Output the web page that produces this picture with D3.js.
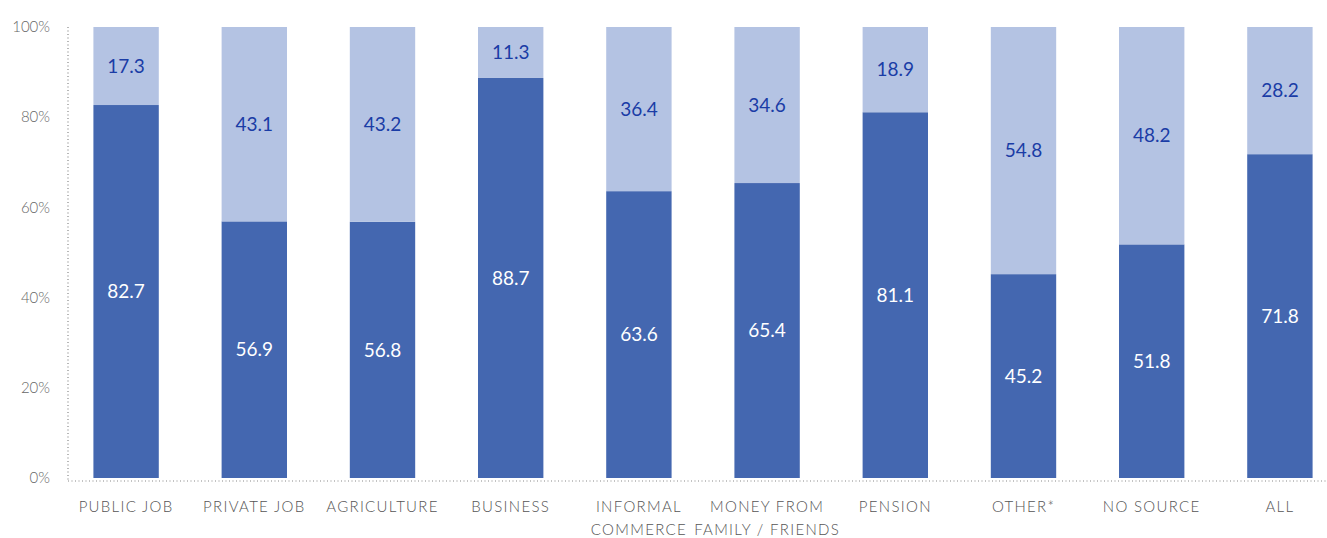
<!DOCTYPE html>
<html>
<head>
<meta charset="utf-8">
<script src="https://cdn.jsdelivr.net/npm/d3@7"></script>
<style>
  body { margin: 0; background: #fff; }
  svg { display: block; }
</style>
</head>
<body>
<svg id="chart"></svg>
<script>
    'use strict';

    var categories = [
        ['PUBLIC JOB'], ['PRIVATE JOB'], ['AGRICULTURE'], ['BUSINESS'],
        ['INFORMAL', 'COMMERCE'], ['MONEY FROM', 'FAMILY / FRIENDS'], ['PENSION'],
        ['OTHER*'], ['NO SOURCE'], ['ALL']
    ];
    var lowerValues = [82.7, 56.9, 56.8, 88.7, 63.6, 65.4, 81.1, 45.2, 51.8, 71.8];
    var upperValues = [17.3, 43.1, 43.2, 11.3, 36.4, 34.6, 18.9, 54.8, 48.2, 28.2];
    var yTicks = [0, 20, 40, 60, 80, 100];

    var width = 1327;
    var height = 538;
    var fontFamily = 'Lato, "Open Sans", sans-serif';

    var svg = d3.select('#chart')
        .attr('width', width)
        .attr('height', height);

    var x = d3.scaleBand()
        .domain(d3.range(categories.length))
        .range([62, 1344])
        .paddingInner(0.49)
        .paddingOuter(0.245);

    var y = d3.scaleLinear()
        .domain([0, 100])
        .range([478, 27]);

    // axis lines (dotted)
    svg.append('line')
        .attr('x1', 68).attr('x2', 68)
        .attr('y1', y(100)).attr('y2', 481)
        .attr('stroke', '#888').attr('stroke-width', 1.2)
        .attr('stroke-dasharray', '1,2.5');

    svg.append('line')
        .attr('x1', 68).attr('x2', width)
        .attr('y1', 481).attr('y2', 481)
        .attr('stroke', '#888').attr('stroke-width', 1.2)
        .attr('stroke-dasharray', '1,2.5');

    // y tick labels
    svg.append('g').selectAll('text')
        .data(yTicks)
        .enter().append('text')
        .attr('x', 50)
        .attr('y', function (d) { return y(d); })
        .attr('dy', '0.35em')
        .attr('text-anchor', 'end')
        .attr('font-family', fontFamily)
        .attr('font-weight', 300)
        .attr('font-size', 15)
        .attr('fill', '#666')
        .text(function (d) { return d + '%'; });

    var bars = svg.append('g').selectAll('g')
        .data(lowerValues)
        .enter().append('g');

    bars.append('rect')
        .attr('x', function (d, i) { return x(i); })
        .attr('width', x.bandwidth())
        .attr('y', function (d) { return y(d); })
        .attr('height', function (d) { return y(0) - y(d); })
        .attr('fill', '#4467b0');

    bars.append('rect')
        .attr('x', function (d, i) { return x(i); })
        .attr('width', x.bandwidth())
        .attr('y', function (d, i) { return y(d + upperValues[i]); })
        .attr('height', function (d, i) { return y(d) - y(d + upperValues[i]); })
        .attr('fill', '#b4c3e3');

    bars.append('text')
        .attr('x', function (d, i) { return x(i) + x.bandwidth() / 2; })
        .attr('y', function (d) { return (y(0) + y(d)) / 2; })
        .attr('dy', '0.35em')
        .attr('text-anchor', 'middle')
        .attr('font-family', fontFamily)
        .attr('font-size', 19)
        .attr('fill', '#fff')
        .text(function (d) { return d.toFixed(1); });

    bars.append('text')
        .attr('x', function (d, i) { return x(i) + x.bandwidth() / 2; })
        .attr('y', function (d, i) { return (y(d) + y(d + upperValues[i])) / 2; })
        .attr('dy', '0.35em')
        .attr('text-anchor', 'middle')
        .attr('font-family', fontFamily)
        .attr('font-size', 19)
        .attr('fill', '#1a3ca6')
        .text(function (d, i) { return upperValues[i].toFixed(1); });

    // category labels
    var labels = svg.append('g').selectAll('text')
        .data(categories)
        .enter().append('text')
        .attr('x', function (d, i) { return x(i) + x.bandwidth() / 2; })
        .attr('y', 507)
        .attr('dy', '0.35em')
        .attr('text-anchor', 'middle')
        .attr('font-family', fontFamily)
        .attr('font-weight', 300)
        .attr('font-size', 15)
        .attr('letter-spacing', 1.3)
        .attr('fill', '#555');

    labels.selectAll('tspan')
        .data(function (d) { return d; })
        .enter().append('tspan')
        .attr('x', function () { return this.parentNode.getAttribute('x'); })
        .attr('dy', function (d, j) { return j === 0 ? '0.35em' : '1.5em'; })
        .text(function (d) { return d; });
</script>
</body>
</html>
